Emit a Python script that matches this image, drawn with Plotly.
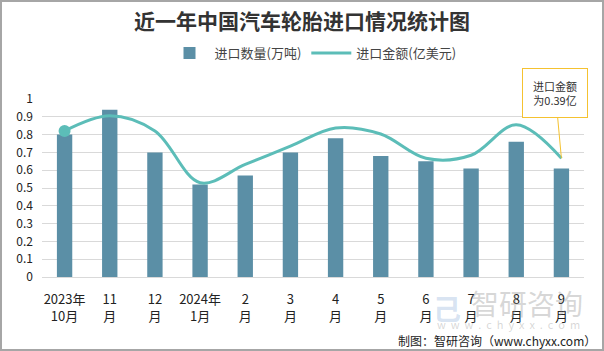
import plotly.graph_objects as go

categories = ["2023年<br>10月", "11<br>月", "12<br>月", "2024年<br>1月", "2<br>月", "3<br>月",
              "4<br>月", "5<br>月", "6<br>月", "7<br>月", "8<br>月", "9<br>月"]
volume = [0.80, 0.94, 0.70, 0.52, 0.57, 0.70, 0.78, 0.68, 0.65, 0.61, 0.76, 0.61]
amount = [0.48, 0.53, 0.48, 0.31, 0.37, 0.43, 0.49, 0.47, 0.39, 0.40, 0.50, 0.39]
y_ticks = [0, 0.1, 0.2, 0.3, 0.4, 0.5, 0.6, 0.7, 0.8, 0.9, 1]
y_tick_text = ["0", "0.1", "0.2", "0.3", "0.4", "0.5", "0.6", "0.7", "0.8", "0.9", "1"]

W, H = 604, 351
L, R, T, B = 42, 20, 99, 74
pw, ph = W - L - R, H - T - B

bar_color = "#5b8fa6"
line_color = "#5cbdb8"
font = "Noto Sans CJK SC"

fig = go.Figure()
fig.add_trace(go.Bar(x=categories, y=volume, name="进口数量(万吨)", marker_color=bar_color,
                     marker_line_width=0))
fig.add_trace(go.Scatter(x=categories, y=amount, name="进口金额(亿美元)", yaxis="y2",
                         mode="lines+markers",
                         line=dict(color=line_color, width=3, shape="spline", smoothing=1.0),
                         marker=dict(size=[12] + [0] * (len(amount) - 1), color=line_color,
                                     opacity=1, line=dict(width=0))))

def px(x):
    return (x - L) / pw

def py(y):
    return (H - B - y) / ph

fig.update_layout(
    width=W, height=H,
    margin=dict(l=L, r=R, t=T, b=B),
    paper_bgcolor="white", plot_bgcolor="white",
    font=dict(family=font, size=12, color="#333333"),
    title=dict(text="<b>近一年中国汽车轮胎进口情况统计图</b>", x=0.5, xanchor="center",
               y=1 - 22 / H, yanchor="middle", yref="container",
               font=dict(family=font, size=21, color="#333333")),
    legend=dict(orientation="h", x=0.5, xanchor="center", y=py(53), yanchor="middle",
                font=dict(size=13, color="#444444"), itemwidth=40, bgcolor="rgba(0,0,0,0)"),
    bargap=0.66,
    showlegend=True,
    xaxis=dict(tickfont=dict(size=13, color="#222222"), showgrid=False, showline=True,
               linecolor="#d9d9d9", ticks="", tickangle=0, automargin=False,
               ticklabelstandoff=10, range=[-0.5, len(categories) - 0.5]),
    yaxis=dict(range=[0, 1], tickvals=y_ticks, ticktext=y_tick_text, showgrid=True,
               gridcolor="#d9d9d9", gridwidth=1, zeroline=False, ticks="",
               tickfont=dict(size=12, color="#222222"), ticklabelstandoff=8, automargin=False),
    yaxis2=dict(range=[0, 0.585], overlaying="y", visible=False),
)

# gray frame
fig.add_shape(type="rect", xref="paper", yref="paper",
              x0=px(1), x1=px(W - 1), y0=py(H - 1), y1=py(1),
              line=dict(color="#a6a6a6", width=2), fillcolor="rgba(0,0,0,0)", layer="below")

# callout
fig.add_annotation(x=categories[-1], y=amount[-1], xref="x", yref="y2",
                   text="进口金额<br>为0.39亿", showarrow=True, arrowhead=0, arrowwidth=1,
                   arrowcolor="#f5c230", ax=-6, ay=-65, font=dict(size=11, color="#333333"),
                   bordercolor="#f5c230", borderwidth=1, borderpad=8, bgcolor="white",
                   width=48, height=32)

# watermark
sp = "\u00a0"
fig.add_annotation(x=px(527), y=py(303), xref="paper", yref="paper", text="智研咨询",
                   xanchor="center", yanchor="middle",
                   showarrow=False, font=dict(size=28, color="rgba(140,140,140,0.35)"))
fig.add_annotation(x=px(508), y=py(324), xref="paper", yref="paper",
                   text=(sp * 2).join(list("www.chyxx.com")),
                   xanchor="center", yanchor="middle",
                   showarrow=False, font=dict(size=11, color="rgba(140,140,140,0.35)"))
fig.add_annotation(x=px(447), y=py(308), xref="paper", yref="paper", text="<b>己</b>",
                   xanchor="center", yanchor="middle",
                   showarrow=False, font=dict(size=28, color="rgba(120,160,210,0.3)"))

# footer
fig.add_annotation(x=px(598), y=py(340), xref="paper", yref="paper", xanchor="right",
                   yanchor="middle",
                   text="制图：智研咨询（www.chyxx.com）", showarrow=False,
                   font=dict(size=12, color="#222222"))

fig.write_html("out.html")
